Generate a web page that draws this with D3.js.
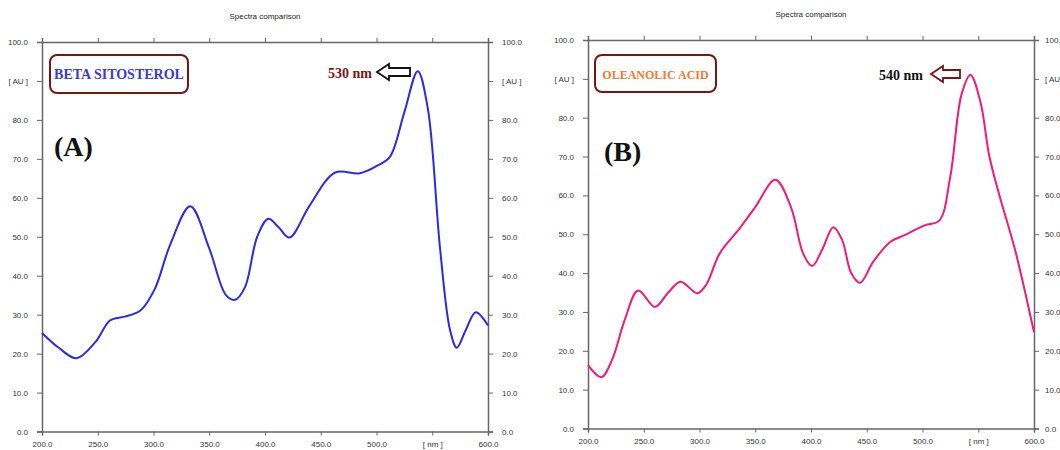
<!DOCTYPE html>
<html>
<head>
<meta charset="utf-8">
<script src="https://cdn.jsdelivr.net/npm/d3@7"></script>
<style>
  body { margin: 0; background: #fff; }
  .tick text { font-family: "Liberation Sans", Arial, sans-serif; font-size: 8px; fill: #333; }
  .domain, .tick line { stroke: #666; }
</style>
</head>
<body>
<svg id="chart" width="1060" height="450"></svg>
<script>
// wavelength (nm) / absorbance (AU)
var wavelengthsA = [200, 215, 231, 248, 261, 274, 288, 301, 315, 333, 350, 365, 373, 382, 393, 403, 412, 422, 440, 463, 485, 501, 512, 525, 537, 546, 557, 566, 572, 580, 589, 600];
var absorbanceA  = [25.3, 21.5, 18.8, 23, 28.5, 29.5, 31, 36.5, 48, 57.8, 47, 35, 33.8, 37, 50, 54.6, 52.5, 49.8, 58, 66.5, 66.3, 68.3, 70.5, 82, 92.5, 83, 47, 26, 21.5, 26, 30.6, 27.2];

var wavelengthsB = [200, 212, 222, 233, 245, 260, 272, 283, 298, 306, 318, 336, 350, 368, 382, 393, 401, 410, 420, 428, 436, 444, 456, 471, 484, 502, 515, 525, 535, 543, 552, 560, 569, 583, 600];
var absorbanceB  = [16.3, 13.2, 18, 28, 35.5, 31.3, 35, 37.8, 34.8, 37, 45, 51.5, 57, 64, 57, 45, 41.8, 46, 51.8, 48.5, 40, 37.5, 43, 48, 49.8, 52.3, 53.5, 65, 86, 91, 84, 70, 60, 46, 24.8];

var xTicks = [200, 250, 300, 350, 400, 450, 500, 550, 600];
var yTicks = [0, 10, 20, 30, 40, 50, 60, 70, 80, 90, 100];

var svg = d3.select("#chart");

function drawPanel(p) {
  var x = d3.scaleLinear().domain([200, 600]).range([p.left, p.right]);
  var y = d3.scaleLinear().domain([0, 100]).range([p.bottom, p.top]);

  var xFmt = function(d) { return d == 550 ? "[ nm ]" : d.toFixed(1); };
  var yFmt = function(d) { return d == 90 ? "[ AU ]" : d.toFixed(1); };

  var g = svg.append("g");

  g.append("g").attr("transform", "translate(0," + p.bottom + ")")
    .call(d3.axisBottom(x).tickValues(xTicks).tickFormat(xFmt).tickSize(4).tickPadding(6));
  g.append("g").attr("transform", "translate(0," + p.top + ")")
    .call(d3.axisTop(x).tickValues(xTicks).tickFormat("").tickSize(4));
  g.append("g").attr("transform", "translate(" + p.left + ",0)")
    .call(d3.axisLeft(y).tickValues(yTicks).tickFormat(yFmt).tickSize(5).tickPadding(9));
  g.append("g").attr("transform", "translate(" + p.right + ",0)")
    .call(d3.axisRight(y).tickValues(yTicks).tickFormat(yFmt).tickSize(5).tickPadding(p.rightPad));
  g.selectAll(".domain").attr("stroke-width", 1.5);

  g.append("text")
    .attr("x", (p.left + p.right) / 2).attr("y", p.top - 23)
    .attr("text-anchor", "middle")
    .style("font-family", "Liberation Sans, Arial, sans-serif")
    .style("font-size", "8px").attr("fill", "#222")
    .text("Spectra comparison");

  var line = d3.line()
    .x(function(d) { return x(d[0]); })
    .y(function(d) { return y(d[1]); })
    .curve(d3.curveCatmullRom.alpha(0.5));

  g.append("path")
    .datum(d3.zip(p.wl, p.ab))
    .attr("d", line)
    .attr("fill", "none")
    .attr("stroke", p.color)
    .attr("stroke-width", 2);

  // name box
  g.append("rect")
    .attr("x", p.box[0]).attr("y", p.box[1])
    .attr("width", p.box[2]).attr("height", p.box[3])
    .attr("rx", 7)
    .attr("fill", "#fff").attr("stroke", "#7a1515").attr("stroke-width", 2);
  g.append("text")
    .attr("x", p.box[0] + p.box[2] / 2).attr("y", p.box[1] + p.box[3] / 2 + 5)
    .attr("text-anchor", "middle")
    .style("font-family", "Liberation Serif, Times New Roman, serif")
    .style("font-weight", "bold").style("font-size", p.nameSize)
    .attr("fill", p.nameColor)
    .text(p.name);

  g.append("text")
    .attr("x", p.letter[0]).attr("y", p.letter[1])
    .style("font-family", "Liberation Serif, Times New Roman, serif")
    .style("font-weight", "bold").style("font-size", "28px")
    .attr("fill", "#111")
    .text(p.label);

  // peak annotation
  g.append("text")
    .attr("x", p.ann[0]).attr("y", p.ann[1])
    .attr("text-anchor", "end")
    .style("font-family", "Liberation Serif, Times New Roman, serif")
    .style("font-weight", "bold").style("font-size", "14px")
    .attr("fill", p.annColor)
    .text(p.peak);

  var ax = p.arrow[0], ay = p.arrow[1], aw = p.arrow[2];
  var pts = [[ax, ay], [ax + 12, ay - 8], [ax + 12, ay - 4], [ax + aw, ay - 4],
             [ax + aw, ay + 4], [ax + 12, ay + 4], [ax + 12, ay + 8]];
  g.append("polygon")
    .attr("points", pts.map(function(d) { return d.join(","); }).join(" "))
    .attr("fill", "#fff").attr("stroke", p.arrowColor).attr("stroke-width", 1.8);
}

drawPanel({
  left: 42, right: 488, top: 42, bottom: 431.5, rightPad: 9,
  wl: wavelengthsA, ab: absorbanceA, color: "#2b2be6",
  box: [50, 55, 138, 38], name: "BETA SITOSTEROL", nameColor: "#3a3ad0", nameSize: "14px",
  label: "(A)", letter: [54, 156],
  peak: "530 nm", ann: [372, 78], annColor: "#7a1515",
  arrow: [377, 72, 33], arrowColor: "#111"
});

drawPanel({
  left: 588, right: 1034, top: 40, bottom: 428.5, rightPad: 6,
  wl: wavelengthsB, ab: absorbanceB, color: "#f0197d",
  box: [595, 55, 121, 37], name: "OLEANOLIC ACID", nameColor: "#f07a32", nameSize: "12px",
  label: "(B)", letter: [604, 161],
  peak: "540 nm", ann: [923, 80], annColor: "#111",
  arrow: [931, 74, 29], arrowColor: "#7a1515"
});
</script>
</body>
</html>
